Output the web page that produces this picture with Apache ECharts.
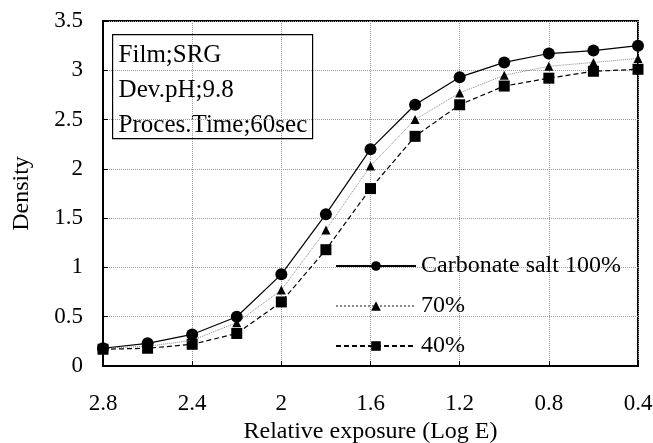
<!DOCTYPE html>
<html>
<head>
<meta charset="utf-8">
<script src="https://cdn.jsdelivr.net/npm/echarts@6/dist/echarts.min.js"></script>
<style>
  html, body { margin: 0; padding: 0; background: #fff; }
  #chart { width: 653px; height: 443px; }
</style>
</head>
<body>
<div id="chart"></div>
<script>
// 相对曝光量 (Log E)
const exposure = [2.8, 2.6, 2.4, 2.2, 2.0, 1.8, 1.6, 1.4, 1.2, 1.0, 0.8, 0.6, 0.4]
// 密度
const density100 = [0.18, 0.23, 0.32, 0.5, 0.93, 1.54, 2.2, 2.65, 2.93, 3.08, 3.17, 3.2, 3.25]
const density70 = [0.18, 0.2, 0.26, 0.44, 0.77, 1.38, 2.03, 2.5, 2.77, 2.95, 3.04, 3.08, 3.12]
const density40 = [0.17, 0.18, 0.22, 0.33, 0.65, 1.18, 1.8, 2.33, 2.65, 2.84, 2.92, 2.99, 3.01]
const seriesNames = ['Carbonate salt 100%', '70%', '40%']
const noteLines = ['Film;SRG', 'Dev.pH;9.8', 'Proces.Time;60sec']

const serif = '"Liberation Serif", "Times New Roman", serif'
const pairs = arr => exposure.map((x, i) => [x, arr[i]])

const myChart = echarts.init(document.getElementById('chart'))

const option = {
  animation: false,
  backgroundColor: '#fff',
  grid: {
    left: 103, right: 15, top: 21, bottom: 77,
    outerBoundsMode: 'none',
    show: true, borderColor: '#000', borderWidth: 2
  },
  legend: {
    orient: 'vertical',
    left: 330,
    top: 249,
    itemWidth: 80,
    itemHeight: 12,
    itemGap: 16,
    textStyle: { fontFamily: serif, fontSize: 24, color: '#000' },
    data: seriesNames
  },
  xAxis: {
    type: 'value',
    inverse: true,
    min: 0.4,
    max: 2.8,
    interval: 0.4,
    name: 'Relative exposure (Log E)',
    nameLocation: 'middle',
    nameGap: 54,
    nameTextStyle: { fontFamily: serif, fontSize: 24, color: '#000' },
    axisLine: { lineStyle: { color: '#000', width: 2 } },
    axisTick: { inside: true, length: 5, lineStyle: { color: '#000' } },
    axisLabel: {
      margin: 26, fontFamily: serif, fontSize: 23, color: '#000',
      formatter: v => String(+v.toFixed(1))
    },
    splitLine: { show: true, lineStyle: { color: '#999', type: 'dotted', width: 1 } }
  },
  yAxis: {
    type: 'value',
    min: 0,
    max: 3.5,
    interval: 0.5,
    name: 'Density',
    nameLocation: 'middle',
    nameGap: 69,
    nameTextStyle: { fontFamily: serif, fontSize: 24, color: '#000' },
    axisLine: { show: true, lineStyle: { color: '#000', width: 2 } },
    axisTick: { show: true, inside: true, length: 5, lineStyle: { color: '#000' } },
    axisLabel: { margin: 20, fontFamily: serif, fontSize: 23, color: '#000' },
    splitLine: { show: true, lineStyle: { color: '#999', type: 'dotted', width: 1 } }
  },
  graphic: [{
    type: 'group',
    left: 112,
    top: 34,
    children: [
      {
        type: 'rect',
        shape: { x: 0, y: 0, width: 200, height: 104 },
        style: { fill: '#fff', stroke: '#000', lineWidth: 1.2 }
      },
      {
        type: 'text',
        left: 6,
        top: 3,
        style: {
          text: noteLines.join('\n'),
          font: '25px ' + serif,
          lineHeight: 35,
          fill: '#000'
        }
      }
    ]
  }],
  series: [
    {
      name: seriesNames[0],
      type: 'line',
      data: pairs(density100),
      symbol: 'circle',
      symbolSize: 12,
      itemStyle: { color: '#000' },
      lineStyle: { color: '#000', width: 1.2, type: 'solid' },
      z: 4
    },
    {
      name: seriesNames[1],
      type: 'line',
      data: pairs(density70),
      symbol: 'triangle',
      symbolSize: 9,
      itemStyle: { color: '#000' },
      lineStyle: { color: '#888', width: 1, type: 'dotted' },
      z: 3
    },
    {
      name: seriesNames[2],
      type: 'line',
      data: pairs(density40),
      symbol: 'rect',
      symbolSize: 11,
      itemStyle: { color: '#000' },
      lineStyle: { color: '#000', width: 1.2, type: [5, 3] },
      z: 2
    }
  ]
}

myChart.setOption(option)
</script>
</body>
</html>
